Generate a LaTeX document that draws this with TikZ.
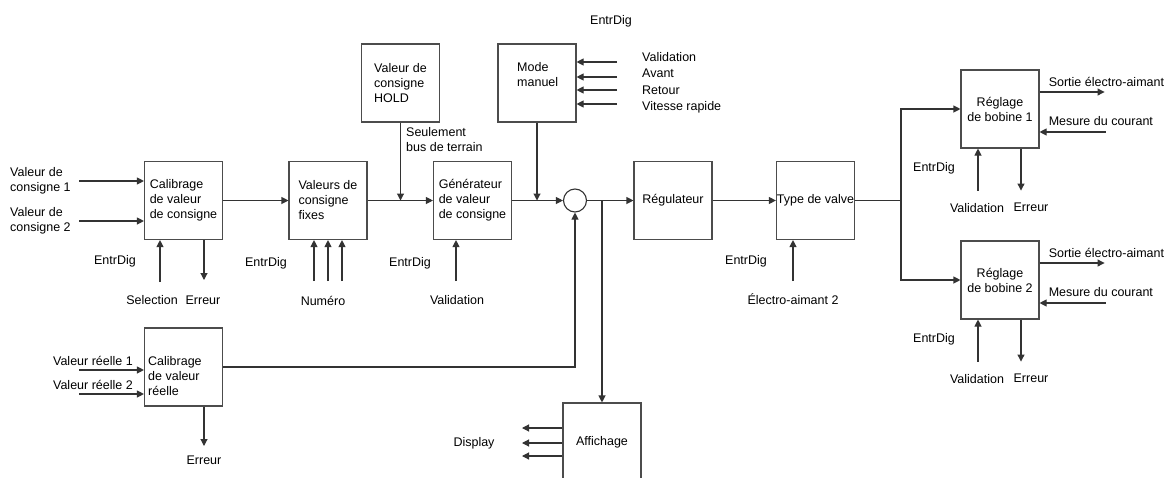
\documentclass[tikz,border=0pt]{standalone}
\usepackage{fontspec}
\setmainfont{Liberation Sans}
\usetikzlibrary{arrows.meta,calc}

\begin{document}
\begin{tikzpicture}[x=1pt,y=-1pt,
  font=\fontsize{12.5}{15}\selectfont,
  blk/.style={draw=black!70,line width=1.1pt,minimum width=78pt,minimum height=78pt,inner sep=0.5pt,align=left},
  ln/.style={line width=1.1pt,draw=black!80},
  arr/.style={ln,-{Triangle[length=7pt,width=7pt]}},
  lbl/.style={inner sep=0pt,align=left}]
\useasboundingbox (0,0) rectangle (1171,477);
% blocs
\node[blk] (cal1) at (183.5,200.5) {Calibrage\\de valeur\\de consigne};
\node[blk] (fix) at (328,200.5) {Valeurs de\\consigne\\fixes};
\node[blk] (hold) at (400.5,83) {Valeur de\\consigne\\HOLD};
\node[blk] (gen) at (472.5,200.5) {Générateur\\de valeur\\de consigne};
\node[blk] (mode) at (537,83) {};
\node[lbl,anchor=west] (modet) at (517,75) {Mode\\manuel};
\node[draw=black!80,line width=1.1pt,circle,minimum size=23pt,inner sep=0pt] (sum) at (575,200.5) {};
\node[blk,align=center] (reg) at (673,200.5) {Régulateur};
\node[blk,align=center] (valve) at (815.5,200.5) {Type de valve};
\node[blk,align=center] (bob1) at (1000,109) {Réglage\\de bobine 1};
\node[blk,align=center] (bob2) at (1000,280) {Réglage\\de bobine 2};
\node[blk] (cal2) at (183.5,367) {};
\node[lbl,anchor=west] (cal2t) at (148,376) {Calibrage\\de valeur\\réelle};
\node[blk,align=center] (aff) at (602,442) {Affichage};

% chaine principale
\coordinate (v1) at (79,181);
\coordinate (v2) at (79,221);
\draw[arr] (v1) -- (v1 -| cal1.west);
\draw[arr] (v2) -- (v2 -| cal1.west);
\draw[arr] (cal1) -- (fix);
\draw[arr] (fix) -- (gen);
\draw[arr] (hold) -- (hold |- fix);
\draw[arr] (gen) -- (sum);
\draw[arr] (mode) -- (mode |- gen);
\draw[arr] (sum) -- (reg);
\draw[arr] (aff |- sum) -- (aff);
\draw[arr] (reg) -- (valve);
\coordinate (sp) at (901,200.5);
\draw[ln] (valve) -- (sp);
\draw[arr] (sp) |- (bob1);
\draw[arr] (sp) |- (bob2);
\draw[arr] (cal2) -| (sum);

% entrees et sorties
\coordinate (sel) at (160,282);
\coordinate (er1) at (204,280);
\draw[arr] (sel) -- (sel |- cal1.south);
\draw[arr] (er1 |- cal1.south) -- (er1);
\foreach \x in {314,328,342} {\coordinate (n\x) at (\x,281); \draw[arr] (n\x) -- (n\x |- fix.south);}
\coordinate (va) at (456,281);
\draw[arr] (va) -- (va |- gen.south);
\foreach \y in {62,77,90,104} {\coordinate (m\y) at (617,\y); \draw[arr] (m\y) -- (m\y -| mode.east);}
\coordinate (el) at (793,281);
\draw[arr] (el) -- (el |- valve.south);
\coordinate (r1) at (79,370);
\coordinate (r2) at (79,394);
\coordinate (er2) at (204,446);
\draw[arr] (r1) -- (r1 -| cal2.west);
\draw[arr] (r2) -- (r2 -| cal2.west);
\draw[arr] (er2 |- cal2.south) -- (er2);
\foreach \y in {428,443,456} {\coordinate (d\y) at (522,\y); \draw[arr] (d\y -| aff.west) -- (d\y);}
\foreach \b in {bob1,bob2} {
  \draw[arr] ($(\b.east)+(0,-17)$) -- ++(65,0);
  \draw[arr] ($(\b.east)+(66,23)$) -- ++(-66,0);
  \draw[arr] ($(\b.south)+(-22,42)$) -- ++(0,-42);
  \draw[arr] ($(\b.south)+(21,0)$) -- ++(0,42);
  \node[lbl,anchor=west] (\b-so) at ($(\b.east)+(9,-27)$) {Sortie électro-aimant};
  \node[lbl,anchor=west] (\b-me) at ($(\b.east)+(9,12)$) {Mesure du courant};
  \node[lbl] (\b-va) at ($(\b.south)+(-23,59)$) {Validation};
  \node[lbl] (\b-er) at ($(\b.south)+(31,59)$) {Erreur};
  \node[lbl] (\b-ed) at ($(\b.south)+(-66,20)$) {EntrDig};
}

% textes
\node[lbl,anchor=west] (lv1) at (10,181) {Valeur de\\consigne 1};
\node[lbl,anchor=west] (lv2) at (10,221) {Valeur de\\consigne 2};
\node[lbl] (ed1) at (115,261) {EntrDig};
\node[lbl] (lsel) at (152,300) {Selection};
\node[lbl] (ler1) at (203,300) {Erreur};
\node[lbl] (ed2) at (266,263) {EntrDig};
\node[lbl] (lnum) at (323,301) {Numéro};
\node[lbl,anchor=west] (lbus) at (406,140) {Seulement\\bus de terrain};
\node[lbl] (ed3) at (410,263) {EntrDig};
\node[lbl] (lval) at (457,300) {Validation};
\node[lbl] (ed4) at (611,21) {EntrDig};
\node[lbl,anchor=west,font=\fontsize{12.5}{16.5}\selectfont] (lmode) at (642,83) {Validation\\Avant\\Retour\\Vitesse rapide};
\node[lbl] (ed5) at (746,261) {EntrDig};
\node[lbl] (lel) at (793,299) {Électro-aimant 2};
\node[lbl,anchor=east] (lr1) at (133,361) {Valeur réelle 1};
\node[lbl,anchor=east] (lr2) at (133,385) {Valeur réelle 2};
\node[lbl] (ler2) at (204,460) {Erreur};
\node[lbl] (ldisp) at (474,443) {Display};
\end{tikzpicture}
\end{document}
